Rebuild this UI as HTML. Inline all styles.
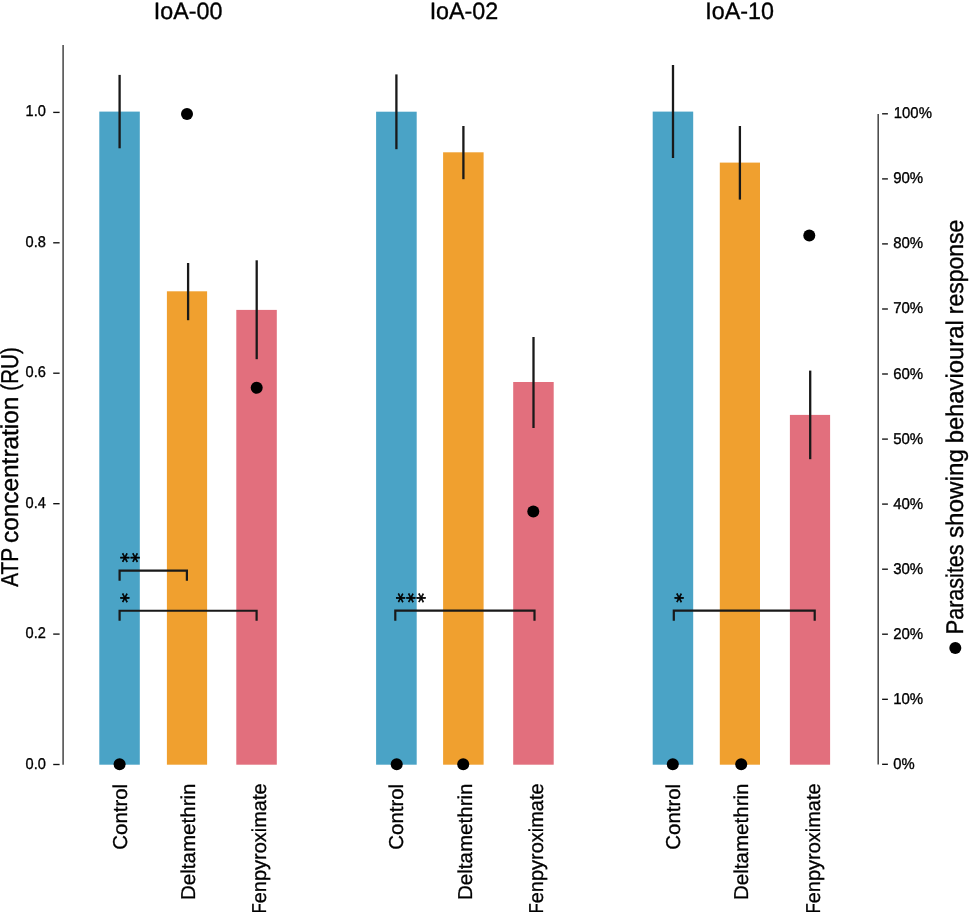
<!DOCTYPE html>
<html><head><meta charset="utf-8"><title>chart</title>
<style>html,body{margin:0;padding:0;background:#fff}svg{display:block}</style></head>
<body>
<svg width="969" height="912" viewBox="0 0 969 912" font-family='"Liberation Sans", "DejaVu Sans", sans-serif' fill="#000" text-rendering="geometricPrecision">
<rect width="969" height="912" fill="#fff"/>
<text x="153.85" y="18.5" font-size="23.6" text-anchor="start" textLength="68.65" lengthAdjust="spacingAndGlyphs" stroke="#000" stroke-width="0.35">IoA-00</text>
<rect x="99.3" y="111.6" width="40.5" height="653.1" fill="#4aa3c6"/>
<rect x="166.9" y="291.3" width="40.2" height="473.4" fill="#f0a02f"/>
<rect x="236.3" y="309.9" width="40.5" height="454.8" fill="#e26f7d"/>
<line x1="119.6" x2="119.6" y1="74.9" y2="148.3" stroke="#191919" stroke-width="2.3"/>
<line x1="188.1" x2="188.1" y1="263.0" y2="320.2" stroke="#191919" stroke-width="2.3"/>
<line x1="256.7" x2="256.7" y1="260.3" y2="359.2" stroke="#191919" stroke-width="2.3"/>
<text transform="translate(126.7,783.9) rotate(-90)" font-size="20.1" text-anchor="end" textLength="65.8" lengthAdjust="spacingAndGlyphs" stroke="#000" stroke-width="0.3">Control</text>
<text transform="translate(195.2,783.5) rotate(-90)" font-size="20.1" text-anchor="end" textLength="116.5" lengthAdjust="spacingAndGlyphs" stroke="#000" stroke-width="0.3">Deltamethrin</text>
<text transform="translate(266.0,913.6) rotate(-90)" font-size="20.1" stroke="#000" stroke-width="0.3"><tspan textLength="10.3" lengthAdjust="spacingAndGlyphs">F</tspan><tspan textLength="119.9" lengthAdjust="spacingAndGlyphs">enpyroximate</tspan></text>
<circle cx="119.6" cy="764.3" r="6"/>
<circle cx="187.0" cy="113.9" r="6"/>
<circle cx="256.7" cy="387.8" r="6"/>
<text x="429.65000000000003" y="18.5" font-size="23.6" text-anchor="start" textLength="68.65" lengthAdjust="spacingAndGlyphs" stroke="#000" stroke-width="0.35">IoA-02</text>
<rect x="376.1" y="111.7" width="40.6" height="653.0" fill="#4aa3c6"/>
<rect x="443.1" y="152.3" width="40.5" height="612.4" fill="#f0a02f"/>
<rect x="513.2" y="382.0" width="40.5" height="382.7" fill="#e26f7d"/>
<line x1="396.4" x2="396.4" y1="74.4" y2="149.2" stroke="#191919" stroke-width="2.3"/>
<line x1="463.4" x2="463.4" y1="126.0" y2="179.2" stroke="#191919" stroke-width="2.3"/>
<line x1="533.5" x2="533.5" y1="337.0" y2="428.0" stroke="#191919" stroke-width="2.3"/>
<text transform="translate(403.1,783.9) rotate(-90)" font-size="20.1" text-anchor="end" textLength="65.8" lengthAdjust="spacingAndGlyphs" stroke="#000" stroke-width="0.3">Control</text>
<text transform="translate(471.7,783.5) rotate(-90)" font-size="20.1" text-anchor="end" textLength="116.5" lengthAdjust="spacingAndGlyphs" stroke="#000" stroke-width="0.3">Deltamethrin</text>
<text transform="translate(542.5,913.6) rotate(-90)" font-size="20.1" stroke="#000" stroke-width="0.3"><tspan textLength="10.3" lengthAdjust="spacingAndGlyphs">F</tspan><tspan textLength="119.9" lengthAdjust="spacingAndGlyphs">enpyroximate</tspan></text>
<circle cx="396.7" cy="764.3" r="6"/>
<circle cx="463.2" cy="764.3" r="6"/>
<circle cx="533.3" cy="511.5" r="6"/>
<text x="705.35" y="18.5" font-size="23.6" text-anchor="start" textLength="68.65" lengthAdjust="spacingAndGlyphs" stroke="#000" stroke-width="0.35">IoA-10</text>
<rect x="652.7" y="111.6" width="40.5" height="653.1" fill="#4aa3c6"/>
<rect x="719.8" y="162.6" width="40.2" height="602.1" fill="#f0a02f"/>
<rect x="789.9" y="414.9" width="40.2" height="349.8" fill="#e26f7d"/>
<line x1="673.0" x2="673.0" y1="65.0" y2="158.0" stroke="#191919" stroke-width="2.3"/>
<line x1="739.9" x2="739.9" y1="126.0" y2="199.6" stroke="#191919" stroke-width="2.3"/>
<line x1="810.2" x2="810.2" y1="370.6" y2="459.2" stroke="#191919" stroke-width="2.3"/>
<text transform="translate(679.6,783.9) rotate(-90)" font-size="20.1" text-anchor="end" textLength="65.8" lengthAdjust="spacingAndGlyphs" stroke="#000" stroke-width="0.3">Control</text>
<text transform="translate(747.7,783.5) rotate(-90)" font-size="20.1" text-anchor="end" textLength="116.5" lengthAdjust="spacingAndGlyphs" stroke="#000" stroke-width="0.3">Deltamethrin</text>
<text transform="translate(819.5,913.6) rotate(-90)" font-size="20.1" stroke="#000" stroke-width="0.3"><tspan textLength="10.3" lengthAdjust="spacingAndGlyphs">F</tspan><tspan textLength="119.9" lengthAdjust="spacingAndGlyphs">enpyroximate</tspan></text>
<circle cx="672.8" cy="764.3" r="6"/>
<circle cx="741.2" cy="764.3" r="6"/>
<circle cx="809.3" cy="235.5" r="6"/>
<line x1="63.1" x2="63.1" y1="45" y2="764.7" stroke="#4a4a4a" stroke-width="1.55"/>
<line x1="53.2" x2="59.6" y1="764.5" y2="764.5" stroke="#111" stroke-width="1.35"/>
<text x="25.6" y="768.55" font-size="15.6" text-anchor="start" textLength="20.3" lengthAdjust="spacingAndGlyphs" stroke="#000" stroke-width="0.35">0.0</text>
<line x1="53.2" x2="59.6" y1="634.1" y2="634.1" stroke="#111" stroke-width="1.35"/>
<text x="25.6" y="638.13" font-size="15.6" text-anchor="start" textLength="20.3" lengthAdjust="spacingAndGlyphs" stroke="#000" stroke-width="0.35">0.2</text>
<line x1="53.2" x2="59.6" y1="503.7" y2="503.7" stroke="#111" stroke-width="1.35"/>
<text x="25.6" y="507.71" font-size="15.6" text-anchor="start" textLength="20.3" lengthAdjust="spacingAndGlyphs" stroke="#000" stroke-width="0.35">0.4</text>
<line x1="53.2" x2="59.6" y1="373.2" y2="373.2" stroke="#111" stroke-width="1.35"/>
<text x="25.6" y="377.29" font-size="15.6" text-anchor="start" textLength="20.3" lengthAdjust="spacingAndGlyphs" stroke="#000" stroke-width="0.35">0.6</text>
<line x1="53.2" x2="59.6" y1="242.8" y2="242.8" stroke="#111" stroke-width="1.35"/>
<text x="25.6" y="246.87" font-size="15.6" text-anchor="start" textLength="20.3" lengthAdjust="spacingAndGlyphs" stroke="#000" stroke-width="0.35">0.8</text>
<line x1="53.2" x2="59.6" y1="112.4" y2="112.4" stroke="#111" stroke-width="1.35"/>
<text x="25.6" y="116.45" font-size="15.6" text-anchor="start" textLength="20.3" lengthAdjust="spacingAndGlyphs" stroke="#000" stroke-width="0.35">1.0</text>
<text transform="translate(17.5,0) rotate(-90)" font-size="24.4" stroke="#000" stroke-width="0.35"><tspan x="-586.72" textLength="38.38" lengthAdjust="spacingAndGlyphs">ATP</tspan> <tspan x="-543.05" textLength="146.48" lengthAdjust="spacingAndGlyphs">concentration</tspan> <tspan x="-390.64" textLength="43.36" lengthAdjust="spacingAndGlyphs">(RU)</tspan></text>
<line x1="878.2" x2="878.2" y1="113.9" y2="764.6" stroke="#4a4a4a" stroke-width="1.55"/>
<line x1="882.1" x2="887.9" y1="764.3" y2="764.3" stroke="#111" stroke-width="1.35"/>
<text x="893.2" y="768.80" font-size="15.6" text-anchor="start" textLength="21.4" lengthAdjust="spacingAndGlyphs" stroke="#000" stroke-width="0.35">0%</text>
<line x1="882.1" x2="887.9" y1="699.3" y2="699.3" stroke="#111" stroke-width="1.35"/>
<text x="893.2" y="703.75" font-size="15.6" text-anchor="start" textLength="30.0" lengthAdjust="spacingAndGlyphs" stroke="#000" stroke-width="0.35">10%</text>
<line x1="882.1" x2="887.9" y1="634.2" y2="634.2" stroke="#111" stroke-width="1.35"/>
<text x="893.2" y="638.71" font-size="15.6" text-anchor="start" textLength="30.0" lengthAdjust="spacingAndGlyphs" stroke="#000" stroke-width="0.35">20%</text>
<line x1="882.1" x2="887.9" y1="569.2" y2="569.2" stroke="#111" stroke-width="1.35"/>
<text x="893.2" y="573.66" font-size="15.6" text-anchor="start" textLength="30.0" lengthAdjust="spacingAndGlyphs" stroke="#000" stroke-width="0.35">30%</text>
<line x1="882.1" x2="887.9" y1="504.1" y2="504.1" stroke="#111" stroke-width="1.35"/>
<text x="893.2" y="508.62" font-size="15.6" text-anchor="start" textLength="30.0" lengthAdjust="spacingAndGlyphs" stroke="#000" stroke-width="0.35">40%</text>
<line x1="882.1" x2="887.9" y1="439.1" y2="439.1" stroke="#111" stroke-width="1.35"/>
<text x="893.2" y="443.57" font-size="15.6" text-anchor="start" textLength="30.0" lengthAdjust="spacingAndGlyphs" stroke="#000" stroke-width="0.35">50%</text>
<line x1="882.1" x2="887.9" y1="374.0" y2="374.0" stroke="#111" stroke-width="1.35"/>
<text x="893.2" y="378.53" font-size="15.6" text-anchor="start" textLength="30.0" lengthAdjust="spacingAndGlyphs" stroke="#000" stroke-width="0.35">60%</text>
<line x1="882.1" x2="887.9" y1="309.0" y2="309.0" stroke="#111" stroke-width="1.35"/>
<text x="893.2" y="313.48" font-size="15.6" text-anchor="start" textLength="30.0" lengthAdjust="spacingAndGlyphs" stroke="#000" stroke-width="0.35">70%</text>
<line x1="882.1" x2="887.9" y1="243.9" y2="243.9" stroke="#111" stroke-width="1.35"/>
<text x="893.2" y="248.44" font-size="15.6" text-anchor="start" textLength="30.0" lengthAdjust="spacingAndGlyphs" stroke="#000" stroke-width="0.35">80%</text>
<line x1="882.1" x2="887.9" y1="178.9" y2="178.9" stroke="#111" stroke-width="1.35"/>
<text x="893.2" y="183.39" font-size="15.6" text-anchor="start" textLength="30.0" lengthAdjust="spacingAndGlyphs" stroke="#000" stroke-width="0.35">90%</text>
<line x1="882.1" x2="887.9" y1="113.8" y2="113.8" stroke="#111" stroke-width="1.35"/>
<text x="893.8" y="118.35" font-size="15.6" text-anchor="start" textLength="38.1" lengthAdjust="spacingAndGlyphs" stroke="#000" stroke-width="0.35">100%</text>
<text transform="translate(963.4,0) rotate(-90)" font-size="24.2" stroke="#000" stroke-width="0.35"><tspan x="-634.22" textLength="89.85" lengthAdjust="spacingAndGlyphs">Parasites</tspan> <tspan x="-538.07" textLength="88.93" lengthAdjust="spacingAndGlyphs">showing</tspan> <tspan x="-443.37" textLength="123.05" lengthAdjust="spacingAndGlyphs">behavioural</tspan> <tspan x="-314.16" textLength="94.30" lengthAdjust="spacingAndGlyphs">response</tspan></text>
<circle cx="955.3" cy="648" r="6"/>
<path d="M119.6 580.7 V570.7 H186.9 V580.7" fill="none" stroke="#191919" stroke-width="2.2"/>
<text transform="translate(0 557.80) scale(1 1.1) translate(0 -557.80)" x="116.3" y="563.4" rotate="30" font-family="DejaVu Sans, sans-serif" font-size="18.2" letter-spacing="1.1" stroke="#000" stroke-width="0.6">**</text>
<path d="M119.6 620.75 V610.75 H256.6 V620.75" fill="none" stroke="#191919" stroke-width="2.2"/>
<text transform="translate(0 598.00) scale(1 1.1) translate(0 -598.00)" x="116.3" y="603.6" rotate="30" font-family="DejaVu Sans, sans-serif" font-size="18.2" letter-spacing="1.1" stroke="#000" stroke-width="0.6">*</text>
<path d="M395.3 620.7 V610.7 H534.5 V620.7" fill="none" stroke="#191919" stroke-width="2.2"/>
<text transform="translate(0 598.10) scale(1 1.1) translate(0 -598.10)" x="392.0" y="603.7" rotate="30" font-family="DejaVu Sans, sans-serif" font-size="18.2" letter-spacing="1.1" stroke="#000" stroke-width="0.6">***</text>
<path d="M673.8 620.7 V610.7 H814.7 V620.7" fill="none" stroke="#191919" stroke-width="2.2"/>
<text transform="translate(0 598.10) scale(1 1.1) translate(0 -598.10)" x="670.5" y="603.7" rotate="30" font-family="DejaVu Sans, sans-serif" font-size="18.2" letter-spacing="1.1" stroke="#000" stroke-width="0.6">*</text>
</svg>
</body></html>
